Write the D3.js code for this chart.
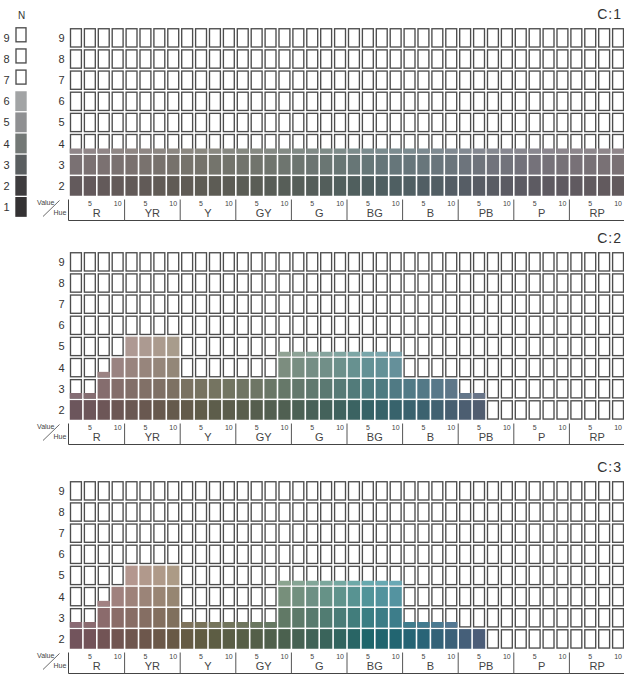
<!DOCTYPE html>
<html><head><meta charset="utf-8">
<script src="https://cdn.jsdelivr.net/npm/d3@7"></script>
<style>body{margin:0;background:#fff}svg{display:block;font-family:"Liberation Sans",Arial,sans-serif}</style>
</head><body><svg id="c" width="624" height="675"></svg>
<script>
// ---------- data ----------
const families = ["R","YR","Y","GY","G","BG","B","PB","P","RP"];
const hues = ["2.5R","5R","7.5R","10R","2.5YR","5YR","7.5YR","10YR","2.5Y","5Y","7.5Y","10Y",
  "2.5GY","5GY","7.5GY","10GY","2.5G","5G","7.5G","10G","2.5BG","5BG","7.5BG","10BG",
  "2.5B","5B","7.5B","10B","2.5PB","5PB","7.5PB","10PB","2.5P","5P","7.5P","10P",
  "2.5RP","5RP","7.5RP","10RP"];
const valueRows = [2,3,4,5,6,7,8,9];
const chromaLabels = ["C:1","C:2","C:3"];
const hueStepLabels = ["5","10"];
// highest value reached in each hue column (fill level)
const levelC1 = [3.27,3.27,3.27,3.27,3.27,3.27,3.27,3.27,3.27,3.27,3.27,3.27,3.27,3.27,3.27,3.27,3.27,3.27,3.27,3.27,
  3.27,3.27,3.27,3.27,3.27,3.27,3.27,3.27,3.27,3.27,3.27,3.27,3.27,3.27,3.27,3.27,3.27,3.27,3.27,3.27];
const levelC2 = [2.3,2.3,3.3,4, 5,5,5,5, 3,3,3,3, 3,3,3,4.25, 4.25,4.25,4.25,4.25, 4.25,4.25,4.25,4.25,
  3,3,3,3, 2.3,2.3,0,0, 0,0,0,0, 0,0,0,0];
const levelC3 = [2.3,2.3,3.3,4, 5,5,5,5, 2.3,2.3,2.3,2.3, 2.3,2.3,2.3,4.25, 4.25,4.25,4.25,4.25, 4.25,4.25,4.25,4.25,
  2.3,2.3,2.3,2.3, 2,2,0,0, 0,0,0,0, 0,0,0,0];
const neutralValues = [1,2,3,4,5,6,7,8,9];

// ---------- styles ----------
const neutralColors = {1:"#343233",2:"#3e3c3e",3:"#5a5e60",4:"#737876",5:"#8f9092",6:"#a2a4a5"};
const famAngle = [8,52,95,125,170,205,228,265,300,335];
const famChromaMul = [0.95,0.85,1.0,0.9,1.0,1.55,1.5,1.15,1.0,0.9];
const panelChroma = [4.5,11,15];
const rowLight = {2:39,3:48.5,4:57,5:65,6:72,7:80,8:88,9:95};

function hueAt(i){
  const p=(i-1)/4, f0=Math.floor(p), t=p-f0;
  let a0=famAngle[(f0+10)%10], a1=famAngle[(f0+11)%10];
  if(a1<a0) a1+=360;
  const m0=famChromaMul[(f0+10)%10], m1=famChromaMul[(f0+11)%10];
  return {h:a0+(a1-a0)*t, m:m0+(m1-m0)*t};
}
function cellColor(panel,i,v){
  const hm=hueAt(i);
  return d3.hcl(hm.h, panelChroma[panel]*hm.m, rowLight[v]).formatHex();
}

const svg=d3.select("#c");
const x=d3.scaleBand().domain(hues).range([69,625]).padding(0);
const bw=x.bandwidth();
const pitch=21.15;
const panelTops=[27.3,251.3,480.3];
const levels=[levelC1,levelC2,levelC3];
const ink="#333";

panelTops.forEach((top,p)=>{
  const y=d3.scaleLinear().domain([1,9]).range([top+8*pitch,top]);
  const g=svg.append("g");
  // row labels
  g.selectAll("text.row").data(valueRows).join("text")
    .attr("x",64.5).attr("y",v=>y(v-0.5)).attr("dy","0.36em")
    .attr("text-anchor","end").attr("font-size",11).attr("fill",ink).text(v=>v);
  // cells
  hues.forEach((h,i)=>{
    const L=levels[p][i];
    valueRows.forEach(v=>{
      const x0=x(h)+0.8, w=bw-1.6, yT=y(v)+0.75, yB=y(v-1)-0.75;
      const col=cellColor(p,i,v);
      if(L>=v){
        g.append("rect").attr("x",x0).attr("y",yT).attr("width",w).attr("height",yB-yT).attr("fill",col);
      } else {
        g.append("rect").attr("x",x0+0.7).attr("y",yT+0.7).attr("width",w-1.4).attr("height",yB-yT-1.4)
          .attr("fill","#fff").attr("stroke","#4d4d4d").attr("stroke-width",1.35);
        if(L>v-1){
          g.append("rect").attr("x",x0).attr("y",y(L)).attr("width",w).attr("height",yB-y(L)).attr("fill",col);
        }
      }
    });
  });
  // axis
  const aT=top+8*pitch+3, aB=aT+21;
  g.append("line").attr("x1",68.5).attr("x2",624).attr("y1",aB).attr("y2",aB).attr("stroke","#444").attr("stroke-width",1);
  g.append("line").attr("x1",68.5).attr("x2",68.5).attr("y1",aT).attr("y2",aB).attr("stroke","#444").attr("stroke-width",1);
  families.forEach((f,k)=>{
    const bx = k<9 ? x(hues[4*(k+1)]) : 625;
    g.append("line").attr("x1",bx).attr("x2",bx).attr("y1",aT).attr("y2",aB).attr("stroke","#555").attr("stroke-width",1);
    const c5=x(hues[4*k+1])+bw/2, c10=x(hues[4*k+3])+bw/2, cf=x(hues[4*k+2]);
    g.append("text").attr("x",c5).attr("y",aT+6).attr("text-anchor","middle").attr("font-size",7).attr("fill","#444").text(hueStepLabels[0]);
    g.append("text").attr("x",c10).attr("y",aT+6).attr("text-anchor","middle").attr("font-size",7).attr("fill","#444").text(hueStepLabels[1]);
    g.append("text").attr("x",cf).attr("y",aT+17.5).attr("text-anchor","middle").attr("font-size",11).attr("fill","#444").text(f);
  });
  g.append("text").attr("x",37).attr("y",aT+5).attr("font-size",7).attr("fill","#444").text("Value");
  g.append("text").attr("x",53.5).attr("y",aT+15.5).attr("font-size",7).attr("fill","#444").text("Hue");
  g.append("line").attr("x1",43).attr("y1",aT+17).attr("x2",59.5).attr("y2",aT+1).attr("stroke","#444").attr("stroke-width",0.8);
  // chroma label
  g.append("text").attr("x",622).attr("y",top-8).attr("text-anchor","end").attr("font-size",14)
    .attr("letter-spacing",1).attr("fill",ink).text(chromaLabels[p]);
});

// neutral legend
const yN=d3.scaleLinear().domain([1,9]).range([panelTops[0]+8*pitch,panelTops[0]]);
const lg=svg.append("g");
lg.append("text").attr("x",21.5).attr("y",19.3).attr("text-anchor","middle").attr("font-size",10).attr("fill",ink).text("N");
neutralValues.forEach(v=>{
  const yT=yN(v)+0.5, yB=yN(v-1)-0.8;
  if(neutralColors[v]){
    lg.append("rect").attr("x",15.3).attr("y",yT).attr("width",11.4).attr("height",yB-yT).attr("fill",neutralColors[v]);
  } else {
    lg.append("rect").attr("x",16).attr("y",yT).attr("width",10).attr("height",14).attr("fill","#fff")
      .attr("stroke","#4d4d4d").attr("stroke-width",1.35);
  }
  lg.append("text").attr("x",6.5).attr("y",yN(v-0.5)).attr("dy","0.36em").attr("text-anchor","middle")
    .attr("font-size",11).attr("fill",ink).text(v);
});
</script></body></html>
